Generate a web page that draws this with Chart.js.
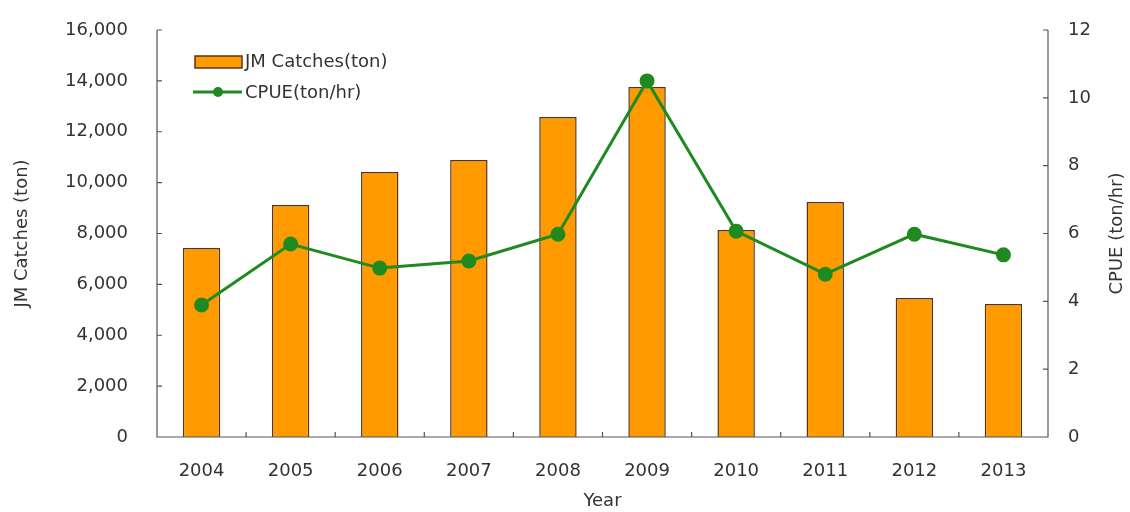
<!DOCTYPE html>
<html>
<head>
<meta charset="utf-8">
<script src="https://cdn.jsdelivr.net/npm/chart.js@4"></script>
<style>
  html, body { margin: 0; padding: 0; background: #fff; }
  #wrap { width: 1130px; height: 512px; }
</style>
</head>
<body>
<div id="wrap"><canvas id="grafico" width="1130" height="512"></canvas></div>
<script>
// dados
const anos = ['2004', '2005', '2006', '2007', '2008', '2009', '2010', '2011', '2012', '2013'];
const capturas = [7430, 9120, 10420, 10890, 12580, 13760, 8140, 9240, 5460, 5230];
const cpue = [3.89, 5.69, 4.98, 5.19, 5.98, 10.5, 6.07, 4.8, 5.98, 5.37];

const FONTE = 'DejaVu Sans';
const COR_TEXTO = '#333';
const COR_EIXO = '#555';
const LARANJA = '#FF9A00';
const BORDA_BARRA = '#5a3514';
const VERDE = '#1f8a1f';

// área do gráfico fixa (em px do canvas)
const AREA = { top: 30, bottom: 437, left: 157, right: 1048 };

// fixa a área de plotagem depois do layout do Chart.js
const pluginArea = {
    id: 'area',
    afterLayout(chart) {
        const a = chart.chartArea;
        a.top = AREA.top; a.bottom = AREA.bottom;
        a.height = a.bottom - a.top;
        ['y', 'y2'].forEach(id => {
            const s = chart.scales[id];
            s.top = AREA.top; s.bottom = AREA.bottom; s.height = a.height;
            s.configure();
        });
    }
};

// eixos, marcas internas, legenda e título do eixo direito
const pluginEixos = {
    id: 'eixos',
    afterDraw(chart) {
        const ctx = chart.ctx;
        const a = chart.chartArea;
        const y = chart.scales.y;
        const y2 = chart.scales.y2;
        ctx.save();
        ctx.strokeStyle = COR_EIXO;
        ctx.lineWidth = 1.2;
        ctx.beginPath();
        ctx.moveTo(a.left, a.top); ctx.lineTo(a.left, a.bottom);
        ctx.lineTo(a.right, a.bottom); ctx.lineTo(a.right, a.top);
        // marcas do eixo esquerdo e direito
        y.ticks.forEach((t, i) => {
            const py = y.getPixelForTick(i);
            ctx.moveTo(a.left, py); ctx.lineTo(a.left + 5, py);
        });
        y2.ticks.forEach((t, i) => {
            const py = y2.getPixelForTick(i);
            ctx.moveTo(a.right, py); ctx.lineTo(a.right - 5, py);
        });
        // marcas entre categorias
        const passo = (a.right - a.left) / anos.length;
        for (let i = 1; i < anos.length; i++) {
            const px = a.left + passo * i;
            ctx.moveTo(px, a.bottom); ctx.lineTo(px, a.bottom - 5);
        }
        ctx.stroke();

        // legenda dentro da área
        ctx.font = '18px "' + FONTE + '"';
        ctx.textBaseline = 'middle';
        ctx.textAlign = 'left';
        ctx.fillStyle = LARANJA;
        ctx.fillRect(195, 56, 47, 12);
        ctx.strokeStyle = BORDA_BARRA;
        ctx.lineWidth = 1.5;
        ctx.strokeRect(195, 56, 47, 12);
        ctx.fillStyle = COR_TEXTO;
        ctx.fillText('JM Catches(ton)', 245, 62);

        ctx.strokeStyle = VERDE;
        ctx.lineWidth = 3;
        ctx.beginPath();
        ctx.moveTo(193, 92); ctx.lineTo(242, 92);
        ctx.stroke();
        ctx.fillStyle = VERDE;
        ctx.beginPath();
        ctx.arc(218, 92, 5, 0, Math.PI * 2);
        ctx.fill();
        ctx.fillStyle = COR_TEXTO;
        ctx.fillText('CPUE(ton/hr)', 245, 93);

        // título do eixo direito, de baixo para cima
        ctx.translate(1117, (a.top + a.bottom) / 2);
        ctx.rotate(-Math.PI / 2);
        ctx.textAlign = 'center';
        ctx.fillText('CPUE (ton/hr)', 0, 0);
        ctx.restore();
    }
};

const ctxGrafico = document.getElementById('grafico').getContext('2d');
new Chart(ctxGrafico, {
    type: 'bar',
    data: {
        labels: anos,
        datasets: [
            {
                type: 'line',
                label: 'CPUE(ton/hr)',
                data: cpue,
                yAxisID: 'y2',
                borderColor: VERDE,
                backgroundColor: VERDE,
                borderWidth: 3,
                pointRadius: 6,
                pointBackgroundColor: VERDE,
                pointBorderColor: VERDE,
                tension: 0,
                clip: false,
                order: 0
            },
            {
                label: 'JM Catches(ton)',
                data: capturas,
                yAxisID: 'y',
                backgroundColor: LARANJA,
                borderColor: BORDA_BARRA,
                borderWidth: 1.5,
                barPercentage: 0.84,
                categoryPercentage: 0.5,
                order: 1
            }
        ]
    },
    options: {
        responsive: false,
        animation: false,
        layout: { padding: { top: 20, left: 0, right: 0, bottom: 0 } },
        plugins: { legend: { display: false }, tooltip: { enabled: false } },
        scales: {
            x: {
                grid: { display: false, drawTicks: false },
                border: { display: false },
                ticks: { color: COR_TEXTO, font: { family: FONTE, size: 18 }, padding: 24, maxRotation: 0 },
                title: { display: true, text: 'Year', color: COR_TEXTO, font: { family: FONTE, size: 18 }, padding: { top: 2, bottom: 0 } },
                afterFit(s) { s.height = 75; }
            },
            y: {
                position: 'left',
                min: 0, max: 16000,
                grid: { display: false, drawTicks: false },
                border: { display: false },
                ticks: {
                    stepSize: 2000, color: COR_TEXTO, padding: 29,
                    font: { family: FONTE, size: 18 },
                    callback: v => v.toLocaleString('en-US')
                },
                title: { display: true, text: 'JM Catches (ton)', color: COR_TEXTO, font: { family: FONTE, size: 18 }, padding: { top: 12, bottom: 0 } },
                afterFit(s) { s.width = 157; }
            },
            y2: {
                position: 'right',
                min: 0, max: 12,
                grid: { display: false, drawTicks: false },
                border: { display: false },
                ticks: { stepSize: 2, color: COR_TEXTO, padding: 20, font: { family: FONTE, size: 18 } },
                afterFit(s) { s.width = 82; }
            }
        }
    },
    plugins: [pluginArea, pluginEixos]
});
</script>
</body>
</html>
